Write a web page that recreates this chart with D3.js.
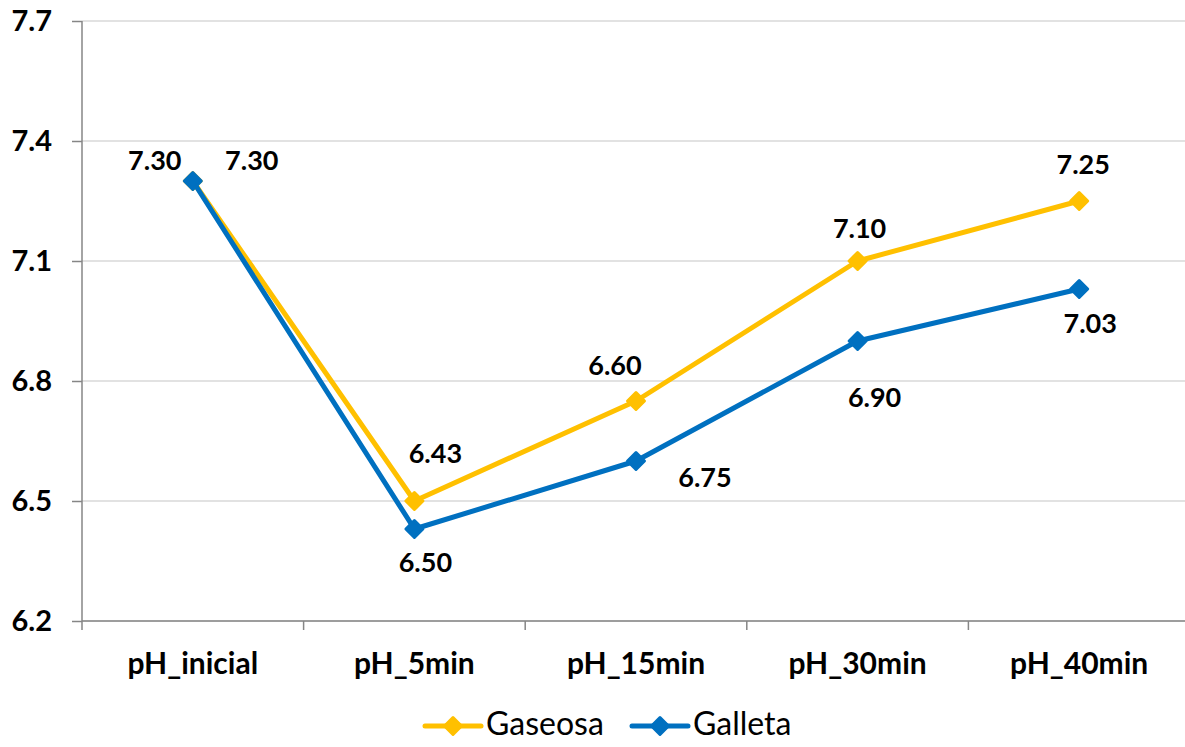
<!DOCTYPE html>
<html>
<head>
<meta charset="utf-8">
<script src="https://cdn.jsdelivr.net/npm/d3@7"></script>
<style>
  html, body { margin: 0; padding: 0; background: #fff; }
  svg { display: block; }
</style>
</head>
<body>
<svg id="chart" width="1185" height="747"></svg>
<script>
// pH readings over time for each snack
const categories = ["pH_inicial", "pH_5min", "pH_15min", "pH_30min", "pH_40min"];
const gaseosa = [7.30, 6.50, 6.75, 7.10, 7.25];
const galleta = [7.30, 6.43, 6.60, 6.90, 7.03];
const yTicks = [6.2, 6.5, 6.8, 7.1, 7.4, 7.7];
const seriesNames = ["Gaseosa", "Galleta"];

// label placement per point (pixel offsets from the marker: dx, baseline dy)
const gaseosaLabelOffsets = [[59, -11], [11, 71], [69, 86], [2, -23], [4, -27]];
const galletaLabelOffsets = [[-38, -11], [21, -66], [-21, -86], [17, 66], [11, 44]];

const colors = { Gaseosa: "#FFC000", Galleta: "#0070C0" };
const axisColor = "#868686";
const gridColor = "#D9D9D9";
const fontFamily = "Lato, 'Open Sans', sans-serif";

const svg = d3.select("#chart");
const plotLeft = 82, plotRight = 1190, plotTop = 21, plotBottom = 621;

const x = d3.scaleBand().domain(categories).range([plotLeft, plotRight]).padding(0);
const y = d3.scaleLinear().domain([6.2, 7.7]).range([plotBottom, plotTop]);
const cx = c => x(c) + x.bandwidth() / 2;

// horizontal gridlines
svg.append("g")
  .selectAll("line")
  .data(yTicks)
  .join("line")
  .attr("x1", plotLeft).attr("x2", 1185)
  .attr("y1", d => y(d)).attr("y2", d => y(d))
  .attr("stroke", gridColor).attr("stroke-width", 1.5);

// y axis
const yAxis = svg.append("g")
  .attr("transform", `translate(${plotLeft},0)`)
  .call(d3.axisLeft(y).tickValues(yTicks).tickSize(10).tickPadding(20).tickFormat(d3.format(".1f")));
yAxis.select(".domain").remove();
yAxis.selectAll(".tick line").attr("stroke", axisColor).attr("stroke-width", 1.5);
yAxis.selectAll(".tick text")
  .attr("fill", "#000")
  .style("font-family", fontFamily)
  .style("font-weight", "bold")
  .style("font-size", "29px");

// x axis line and category labels
const xAxis = svg.append("g")
  .attr("transform", `translate(0,${plotBottom})`)
  .call(d3.axisBottom(x).tickSize(0).tickPadding(32));
xAxis.select(".domain").remove();
xAxis.selectAll(".tick text")
  .attr("fill", "#000")
  .style("font-family", fontFamily)
  .style("font-weight", "bold")
  .style("font-size", "30px");

svg.append("line")
  .attr("x1", plotLeft).attr("x2", 1185)
  .attr("y1", plotBottom).attr("y2", plotBottom)
  .attr("stroke", axisColor).attr("stroke-width", 1.5);
svg.append("line")
  .attr("x1", plotLeft).attr("x2", plotLeft)
  .attr("y1", plotTop).attr("y2", plotBottom + 9)
  .attr("stroke", axisColor).attr("stroke-width", 1.5);

// category boundary ticks
svg.append("g")
  .selectAll("line")
  .data(categories.slice(1))
  .join("line")
  .attr("x1", d => x(d)).attr("x2", d => x(d))
  .attr("y1", plotBottom).attr("y2", plotBottom + 9)
  .attr("stroke", axisColor).attr("stroke-width", 1.5);

const diamond = "M0,-8.5L8.5,0L0,8.5L-8.5,0Z";

const series = [
  { name: "Gaseosa", values: gaseosa, offsets: gaseosaLabelOffsets },
  { name: "Galleta", values: galleta, offsets: galletaLabelOffsets }
];

const line = d3.line().x((d, i) => cx(categories[i])).y(d => y(d));

series.forEach(s => {
  const g = svg.append("g");
  g.append("path")
    .attr("d", line(s.values))
    .attr("fill", "none")
    .attr("stroke", colors[s.name])
    .attr("stroke-width", 5)
    .attr("stroke-linejoin", "round");
  g.selectAll("path.marker")
    .data(s.values)
    .join("path")
    .attr("class", "marker")
    .attr("d", diamond)
    .attr("transform", (d, i) => `translate(${cx(categories[i])},${y(d)})`)
    .attr("fill", colors[s.name])
    .attr("stroke", colors[s.name])
    .attr("stroke-width", 3)
    .attr("stroke-linejoin", "round");
});

// value labels
series.forEach(s => {
  svg.append("g")
    .selectAll("text")
    .data(s.values)
    .join("text")
    .attr("x", (d, i) => cx(categories[i]) + s.offsets[i][0])
    .attr("y", (d, i) => y(d) + s.offsets[i][1])
    .attr("text-anchor", "middle")
    .style("font-family", fontFamily)
    .style("font-weight", "bold")
    .style("font-size", "27px")
    .attr("fill", "#000")
    .text(d => d3.format(".2f")(d));
});

// legend
const legendItems = [
  { name: seriesNames[0], x: 425 },
  { name: seriesNames[1], x: 632 }
];
const lg = svg.append("g");
legendItems.forEach(item => {
  const g = lg.append("g").attr("transform", `translate(${item.x},726)`);
  g.append("line")
    .attr("x1", 0).attr("x2", 56)
    .attr("y1", 0).attr("y2", 0)
    .attr("stroke", colors[item.name])
    .attr("stroke-width", 5)
    .attr("stroke-linecap", "round");
  g.append("path")
    .attr("d", diamond)
    .attr("transform", "translate(28,0)")
    .attr("fill", colors[item.name])
    .attr("stroke", colors[item.name])
    .attr("stroke-width", 3)
    .attr("stroke-linejoin", "round");
  g.append("text")
    .attr("x", 61).attr("y", 9)
    .style("font-family", fontFamily)
    .style("font-size", "32px")
    .attr("fill", "#000")
    .text(item.name);
});
</script>
</body>
</html>
